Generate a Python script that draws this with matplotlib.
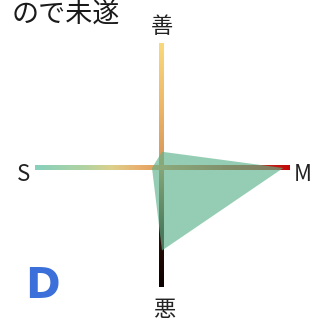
"""
Radar-style cross chart (善 / M / 悪 / S) with gradient arms and a filled
profile polygon. Saves out.png at ~320x326 px.
"""

import numpy as np
import matplotlib
matplotlib.use("Agg")
import matplotlib.pyplot as plt
from matplotlib.colors import LinearSegmentedColormap

plt.rcParams["font.family"] = ["Noto Sans CJK JP", "DejaVu Sans"]

# --- data ---------------------------------------------------------------
AXIS_LABELS = ["善", "M", "悪", "S"]
AXIS_ANGLES = [90, 0, 270, 180]          # degrees
PROFILE     = [0.13, 0.97, 0.66, 0.08]   # value on each axis (0..1)
TITLE_TEXT  = "ので未遂"
GRADE       = "D"

# --- style --------------------------------------------------------------
ARM_LEN   = [1.0, 1.02, 0.95, 1.02]
LABEL_R   = 1.12
ARM_W     = 0.04     # arm thickness in data units (~5 px)

vert_cmap = LinearSegmentedColormap.from_list(
    "vert", [(0.0, "#0c0000"), (0.22, "#2e1006"), (0.5, "#d8955a"),
             (0.75, "#eeb868"), (1.0, "#f9d97c")])
horz_cmap = LinearSegmentedColormap.from_list(
    "horz", [(0.0, "#86d0bd"), (0.2, "#b3d3a0"), (0.3, "#dcd08c"),
             (0.4, "#e8b270"), (0.5, "#e29a5a"), (0.75, "#c4502e"),
             (1.0, "#c00a0a")])


def gradient_arm(ax, p0, p1, cmap, vertical):
    grad = np.linspace(0, 1, 256)
    if vertical:
        img = grad.reshape(-1, 1)
        ext = (p0[0] - ARM_W / 2, p0[0] + ARM_W / 2, p0[1], p1[1])
    else:
        img = grad.reshape(1, -1)
        ext = (p0[0], p1[0], p0[1] - ARM_W / 2, p0[1] + ARM_W / 2)
    ax.imshow(img, cmap=cmap, extent=ext, origin="lower", aspect="auto",
              interpolation="bilinear", zorder=2)


fig = plt.figure(figsize=(3.2, 3.26), dpi=100)
ax = fig.add_axes([0, 0, 1, 1])

ang = np.deg2rad(AXIS_ANGLES)
ends = {lab: (np.cos(a) * L, np.sin(a) * L)
        for lab, a, L in zip(AXIS_LABELS, ang, ARM_LEN)}

# vertical arm: bottom (悪) -> top (善); horizontal arm: left (S) -> right (M)
gradient_arm(ax, ends["悪"], ends["善"], vert_cmap, vertical=True)
gradient_arm(ax, ends["S"], ends["M"], horz_cmap, vertical=False)

# profile polygon
px = np.array(PROFILE) * np.cos(ang)
py = np.array(PROFILE) * np.sin(ang)
ax.fill(px, py, color="#5db38c", alpha=0.65, lw=0, zorder=3)

# axis labels
label_dx = {"善": 0.0, "悪": 0.02, "S": 0.01, "M": 0.005}
label_dy = {"善": 0.01, "悪": -0.01, "S": -0.05, "M": -0.05}
for lab, a in zip(AXIS_LABELS, ang):
    ax.text(np.cos(a) * LABEL_R + label_dx[lab],
            np.sin(a) * LABEL_R + label_dy[lab], lab,
            ha="center", va="center", fontsize=16,
            color="#222222", zorder=4)

# title fragment at the top-left
ax.text(-0.336, 1.232, TITLE_TEXT, ha="right", va="center",
        fontsize=19.5, color="#1a1a1a", zorder=4)

# grade letter
ax.text(-0.96, -0.945, GRADE, ha="center", va="center", fontsize=30,
        fontweight="bold", color="#3b6fd9", family="DejaVu Sans", zorder=4)

ax.set_xlim(-1.296, 1.264)
ax.set_ylim(-1.264, 1.344)
ax.set_axis_off()

fig.savefig("out.png", dpi=100, facecolor="white")
